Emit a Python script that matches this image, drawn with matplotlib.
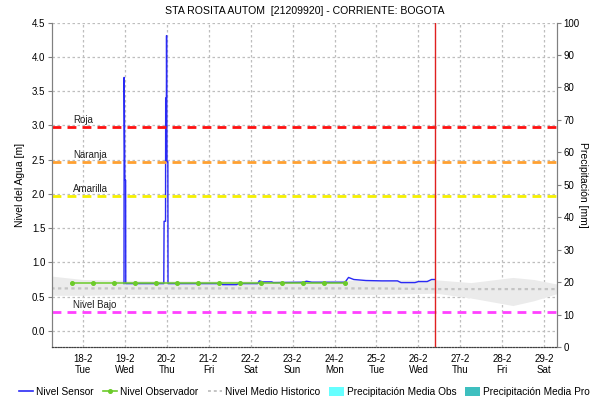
import matplotlib
matplotlib.use('Agg')
import numpy as np
import pandas as pd
import matplotlib.pyplot as plt
from matplotlib.lines import Line2D
from matplotlib.patches import Patch

plt.rcParams.update({'font.family': ['Liberation Sans', 'DejaVu Sans'], 'font.size': 7})

TITLE = 'STA ROSITA AUTOM  [21209920] - CORRIENTE: BOGOTA'

# sensor series (m)
sensor_time = ['2020-02-18 23:35', '2020-02-18 23:40', '2020-02-19 00:05', '2020-02-19 00:30', '2020-02-19 00:35',
               '2020-02-19 22:20', '2020-02-19 22:30', '2020-02-19 23:20', '2020-02-19 23:25', '2020-02-19 23:50',
               '2020-02-19 23:55', '2020-02-20 00:10', '2020-02-20 00:40', '2020-02-20 00:45',
               '2020-02-21 07:00', '2020-02-21 08:00', '2020-02-21 16:00', '2020-02-21 17:00',
               '2020-02-22 04:00', '2020-02-22 05:00', '2020-02-22 07:00', '2020-02-22 12:00', '2020-02-22 13:00',
               '2020-02-23 06:00', '2020-02-23 08:00', '2020-02-23 11:00', '2020-02-24 06:00', '2020-02-24 08:00',
               '2020-02-24 11:00', '2020-02-24 18:00', '2020-02-25 03:00', '2020-02-25 12:00', '2020-02-25 14:00',
               '2020-02-25 22:00', '2020-02-26 00:00', '2020-02-26 05:00', '2020-02-26 07:30', '2020-02-26 09:30']
sensor_val = [0.69, 3.70, 2.20, 2.20, 0.69,
              0.69, 1.60, 1.60, 3.40, 3.40,
              4.31, 2.47, 2.47, 0.69,
              0.69, 0.675, 0.675, 0.69,
              0.69, 0.73, 0.715, 0.715, 0.705,
              0.71, 0.725, 0.71, 0.71, 0.78,
              0.75, 0.735, 0.73, 0.73, 0.705,
              0.705, 0.72, 0.72, 0.75, 0.75]

# observer readings (m), every 12 h from 17-2 18:00
obs_time = pd.date_range('2020-02-17 18:00', '2020-02-24 06:00', freq='12h')
obs_val = [0.70, 0.70, 0.70, 0.70, 0.70, 0.70, 0.70, 0.70, 0.70, 0.70, 0.70, 0.70, 0.70, 0.70]

# historical mean and band
hist_time = ['2020-02-17 06:00', '2020-02-18 00:00', '2020-02-19 00:00', '2020-02-20 00:00', '2020-02-21 00:00',
             '2020-02-22 00:00', '2020-02-23 00:00', '2020-02-24 00:00', '2020-02-25 00:00', '2020-02-26 10:00',
             '2020-02-27 06:00', '2020-02-28 06:00', '2020-02-28 18:00', '2020-02-29 08:00']
hist_mean = [0.62, 0.62, 0.62, 0.62, 0.62, 0.62, 0.62, 0.62, 0.62, 0.61, 0.61, 0.61, 0.61, 0.61]
hist_hi = [0.80, 0.75, 0.74, 0.73, 0.73, 0.73, 0.73, 0.74, 0.74, 0.745, 0.705, 0.78, 0.75, 0.68]
hist_lo = [0.52, 0.52, 0.53, 0.53, 0.53, 0.53, 0.53, 0.53, 0.53, 0.55, 0.48, 0.37, 0.44, 0.55]

# alert thresholds (m)
thr_names = ['Roja', 'Naranja', 'Amarilla', 'Nivel Bajo']
thr_vals = [2.97, 2.46, 1.97, 0.27]
thr_colors = ['#FF1010', '#FFA030', '#F5F000', '#FF40FF']

now_time = '2020-02-26 09:30'
x_start, x_end = '2020-02-17 06:35', '2020-02-29 07:05'
day_ticks = pd.date_range('2020-02-18', '2020-02-29', freq='D')

fig = plt.figure(figsize=(5.92, 4.01), dpi=100)
ax = fig.add_axes([0.0884, 0.1347, 0.852, 0.809])
ax2 = ax.twinx()

ht = pd.to_datetime(hist_time)
ax.fill_between(ht, hist_lo, hist_hi, color='#EBEBEB', lw=0, zorder=1)
ax.plot(ht, hist_mean, color='#C4C4C4', lw=1.6, ls=(0, (1.5, 1.5)), zorder=2)

ax.plot(pd.to_datetime(sensor_time), sensor_val, color='#2A2AF5', lw=1.0, zorder=4)
ax.plot(obs_time, obs_val, color='#6CCB2A', lw=1.1, marker='o', ms=2.6, zorder=5)

for name, v, c in zip(thr_names, thr_vals, thr_colors):
    ax.axhline(v, color=c, lw=2.0, ls=(0, (3.2, 2.2)), zorder=6)
    ax.text(pd.Timestamp('2020-02-17 18:30'), v + 0.03, name, fontsize=7, color='#202020', va='bottom', ha='left', zorder=7)

ax.axvline(pd.Timestamp(now_time), color='#E02020', lw=1.0, zorder=7)

ax.set_xlim(pd.Timestamp(x_start), pd.Timestamp(x_end))
ax.set_ylim(-0.235, 4.5)
ax.set_yticks(np.arange(0, 4.51, 0.5))
ax.set_yticklabels([f'{v:.1f}' for v in np.arange(0, 4.51, 0.5)])
ax.set_xticks(day_ticks)
ax.set_xticklabels([f'{d.day}-{d.month}\n{d.strftime("%a")}' for d in day_ticks], linespacing=1.15)
ax.tick_params(axis='x', length=0, pad=5, labelsize=7)
ax.tick_params(axis='y', length=3, color='#808080', labelsize=7, pad=2)
ax.grid(True, color='#BEBEBE', lw=0.9, ls=(0, (2, 2)), zorder=0)
ax.set_axisbelow(True)

ax2.set_ylim(0, 100)
ax2.set_yticks(np.arange(0, 101, 10))
ax2.tick_params(axis='y', length=3, color='#808080', labelsize=7, pad=2)

for a in (ax, ax2):
    a.spines['top'].set_visible(False)
    a.spines['left'].set_color('#808080')
    a.spines['right'].set_color('#808080')
    a.spines['bottom'].set_color('#404040')
    a.spines['bottom'].set_linestyle((0, (1, 1.5)))

fig.text(20 / 592, 0.54, 'Nivel del Agua [m]', rotation=90, ha='center', va='center', fontsize=7.5)
fig.text(583 / 592, 0.54, 'Precipitación [mm]', rotation=270, ha='center', va='center', fontsize=7.5)
fig.text(0.515, 0.972, TITLE, ha='center', va='center', fontsize=7.6)

handles = [Line2D([], [], color='#2A2AF5', lw=1.2),
           Line2D([], [], color='#6CCB2A', lw=1.2, marker='o', ms=2.6),
           Line2D([], [], color='#C4C4C4', lw=1.4, ls=(0, (1.5, 1.5))),
           Patch(facecolor='#66FFFF', edgecolor='none'),
           Patch(facecolor='#3EBFBF', edgecolor='none')]
labels = ['Nivel Sensor', 'Nivel Observador', 'Nivel Medio Historico', 'Precipitación Media Obs', 'Precipitación Media Pro']
fig.legend(handles, labels, loc='center', bbox_to_anchor=(0.514, 0.022), ncol=5, frameon=False, fontsize=7.3,
           handlelength=1.4, handletextpad=0.3, columnspacing=0.9, handleheight=0.9)

plt.savefig('out.png', dpi=100)
